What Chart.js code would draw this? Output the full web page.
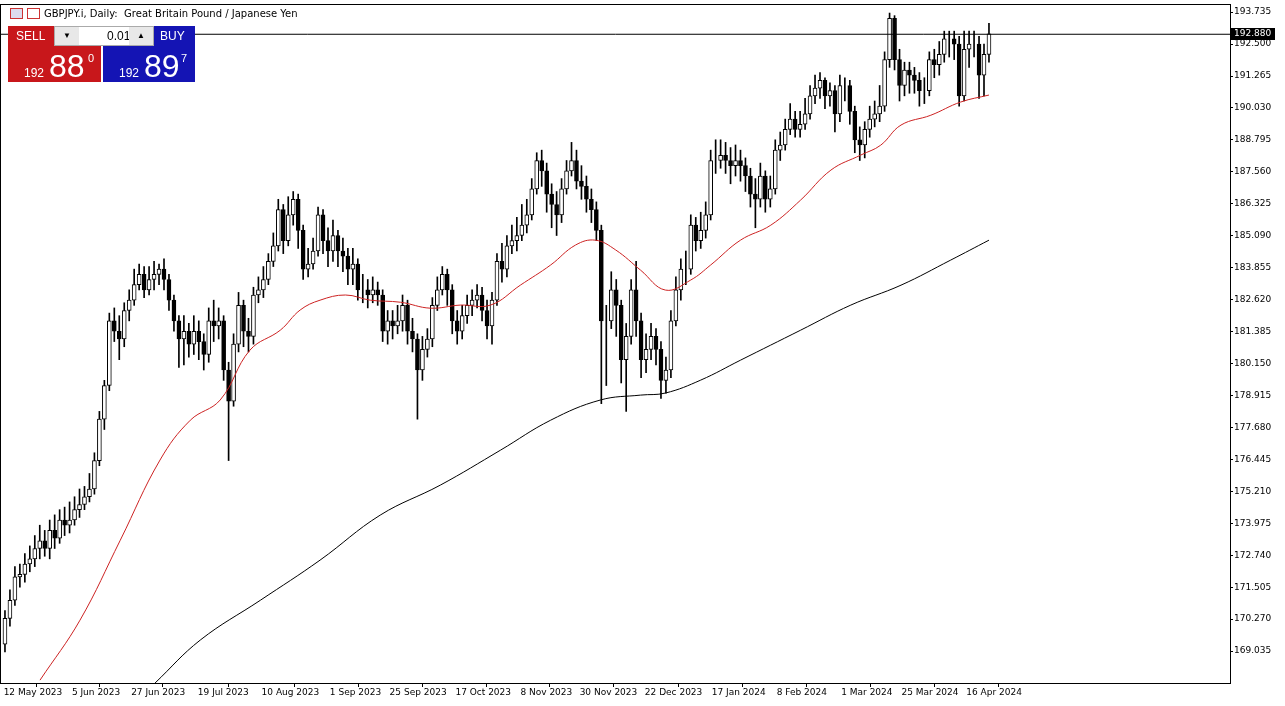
<!DOCTYPE html>
<html>
<head>
<meta charset="utf-8">
<script src="https://cdn.jsdelivr.net/npm/chart.js@4.4.1/dist/chart.umd.min.js"></script>
<style>
  body { margin: 0; background: #fff; font-family: "DejaVu Sans", sans-serif; }
  #wrap { position: relative; width: 1285px; height: 706px; }
  #title { position: absolute; left: 10px; top: 8px; font-size: 10px; color: #000; display: flex; align-items: center; gap: 4px; }
  .ico { width: 13px; height: 11px; border: 1px solid; display: inline-block; box-sizing: border-box; }
  #panel { position: absolute; left: 8px; top: 26px; width: 187px; height: 56px; font-family: "Liberation Sans", sans-serif; }
  .btn { position: absolute; color: #fff; }
  #sell { left: 0; top: 0; width: 93px; height: 56px; background: #c8171b; }
  #buy { left: 95px; top: 0; width: 92px; height: 56px; background: #1414b4; }
  .lbl { position: absolute; top: 3px; font-size: 12px; }
  .big { position: absolute; top: 22px; font-size: 32px; }
  .sm { position: absolute; top: 40px; font-size: 12px; }
  .sup { position: absolute; top: 26px; font-size: 11px; }
  #lot { position: absolute; left: 46px; top: 0; width: 100px; height: 20px; background: #fff; border: 1px solid #aaa; box-sizing: border-box; font-size: 12px; }
  .arr { position: absolute; top: 0; width: 24px; height: 18px; background: #e8e8e8; font-size: 8px; text-align: center; line-height: 18px; }
</style>
</head>
<body>
<div id="wrap">
  <canvas id="chart" width="1285" height="706"></canvas>
  <div id="title"><span class="ico" style="border-color:#c33;background:#dde"></span><span class="ico" style="border-color:#c33"></span><span>GBPJPY.i, Daily:&nbsp; Great Britain Pound / Japanese Yen</span></div>
  <div id="panel">
    <div class="btn" id="sell"><span class="lbl" style="left:8px">SELL</span><span class="sm" style="left:16px">192</span><span class="big" style="left:41px">88</span><span class="sup" style="left:80px">0</span></div>
    <div class="btn" id="buy"><span class="lbl" style="left:57px">BUY</span><span class="sm" style="left:16px">192</span><span class="big" style="left:41px">89</span><span class="sup" style="left:78px">7</span></div>
    <div id="lot"><span class="arr" style="left:0">&#9660;</span><span style="position:absolute;left:52px;top:2px">0.01</span><span class="arr" style="right:0">&#9650;</span></div>
  </div>
</div>
<script>
// Daily GBPJPY candles, 12 May 2023 .. 22 Apr 2024
const firstOpen = 169.3;
const closes = [170.3,171.0,171.9,172.0,172.4,172.6,173.0,173.3,173.0,173.7,173.4,174.1,173.9,174.1,174.5,174.7,175.0,175.3,176.4,178.0,
  179.3,181.8,181.4,181.1,182.2,182.6,183.2,183.6,183.0,183.4,183.6,183.8,183.4,182.6,181.8,181.1,181.4,180.9,181.4,181.0,
  180.5,181.8,181.6,181.8,179.9,178.7,180.9,182.4,181.4,181.2,182.8,183.0,183.4,184.1,184.7,186.1,184.9,185.9,186.5,185.3,
  183.8,184.0,184.5,185.9,184.9,184.5,185.1,184.5,184.3,183.8,184.0,183.0,183.0,182.8,183.0,182.8,181.4,181.8,181.6,181.8,
  182.4,181.4,181.1,179.9,180.7,181.1,182.4,183.0,183.6,183.0,181.8,181.4,182.0,182.4,182.6,182.8,182.2,181.6,182.6,184.1,
  183.8,184.7,184.9,185.1,185.5,185.9,186.9,188.0,187.6,186.7,186.3,185.9,186.9,187.6,188.0,187.2,187.0,186.5,186.1,185.3,
  181.8,181.8,183.0,182.4,180.3,181.2,183.0,181.8,180.3,180.7,181.2,180.7,179.5,179.9,181.8,183.0,183.8,183.8,185.5,184.9,
  185.3,185.9,188.0,188.0,188.2,188.0,187.8,188.0,187.8,187.4,186.7,186.5,187.4,186.5,186.9,188.4,188.6,189.2,189.6,189.2,
  189.4,189.8,190.5,190.8,191.1,190.5,190.7,189.8,190.9,190.9,189.9,188.8,188.6,189.2,189.6,189.8,190.1,191.9,193.5,191.9,
  190.9,191.5,191.3,191.1,190.7,190.7,191.9,191.7,192.1,192.7,192.7,192.5,190.5,192.3,192.5,192.5,191.3,192.1,192.9];
const highs = [170.6,171.4,172.3,172.4,172.8,173.1,173.5,173.9,173.7,174.1,174.3,174.5,174.6,174.8,175.0,175.3,175.4,175.9,176.7,178.3,
  179.5,182.1,182.3,182.0,182.5,183.0,183.8,184.0,183.9,183.9,184.1,184.0,184.2,183.6,182.8,182.0,182.0,181.7,182.0,181.8,
  181.3,182.3,182.6,182.3,182.0,180.2,181.3,182.9,182.6,181.9,183.1,183.5,183.9,184.4,185.2,186.5,186.3,186.6,186.8,186.7,
  185.5,184.6,185.0,186.2,186.1,185.4,185.7,185.3,185.0,184.6,184.6,184.2,183.6,183.4,183.5,183.3,183.0,182.2,182.2,182.4,
  182.8,182.6,181.9,181.3,181.2,181.5,182.7,183.5,183.9,183.8,183.2,182.2,182.4,182.8,183.0,183.2,183.1,182.6,182.9,184.4,
  184.8,185.1,185.5,185.8,186.3,186.5,187.3,188.3,188.4,187.9,187.1,186.8,187.3,188.0,188.7,188.4,187.8,187.4,186.9,186.4,
  185.5,182.4,183.7,183.4,182.6,181.7,183.4,184.1,182.1,181.3,181.7,181.5,181.0,180.4,182.2,183.5,184.2,184.5,185.9,185.8,
  186.0,186.4,188.4,188.8,188.8,188.7,188.5,188.6,188.4,188.1,187.7,187.3,187.9,187.6,187.4,188.8,189.1,189.6,190.2,189.9,
  189.9,190.4,190.9,191.3,191.4,191.2,191.0,190.9,191.3,191.2,191.1,190.1,189.3,189.5,190.1,190.3,190.9,192.2,193.7,193.6,
  192.3,191.8,191.8,191.6,191.4,191.2,192.2,192.3,192.6,193.0,193.0,193.0,192.8,193.0,193.0,193.0,192.8,192.5,193.3];
const lows = [169.0,170.0,170.8,171.5,171.7,172.1,172.3,172.6,172.7,172.6,173.0,173.2,173.5,173.6,173.9,174.2,174.5,174.8,175.1,176.2,
  177.6,179.1,181.0,180.3,180.8,181.8,182.4,183.0,182.7,182.8,183.0,183.2,183.0,182.2,181.4,180.0,180.1,180.4,180.5,180.3,
  179.9,180.2,181.0,181.1,179.5,176.4,178.5,180.6,180.8,180.6,180.9,182.5,182.7,183.2,183.9,184.5,184.4,184.7,185.5,184.6,
  183.4,183.5,183.8,184.3,184.4,183.9,184.1,183.9,183.7,183.2,183.2,182.6,182.5,182.3,182.5,182.4,181.0,180.9,181.1,181.3,
  181.4,180.9,180.6,178.0,179.5,180.4,180.8,182.2,182.8,182.4,181.3,180.9,181.1,181.7,182.0,182.3,181.8,181.1,180.9,182.4,
  183.3,183.5,184.4,184.5,184.9,185.2,185.7,186.7,187.0,186.0,185.4,185.1,185.6,186.7,187.4,186.9,186.5,186.0,185.6,184.9,
  178.6,179.3,181.5,181.2,179.4,178.3,180.9,181.2,179.6,179.8,180.3,180.1,178.8,179.0,179.6,181.6,182.6,183.2,183.6,184.5,
  184.6,185.0,185.7,187.5,187.7,187.5,187.1,187.4,187.2,186.8,186.2,185.4,186.2,186.0,186.2,186.7,188.0,188.4,189.0,188.9,
  188.9,189.2,189.6,190.2,190.4,190.0,190.1,189.1,189.5,190.3,189.4,188.3,188.0,188.1,188.9,189.3,189.5,189.9,191.6,191.5,
  190.3,190.5,190.6,190.6,190.1,190.2,190.5,191.2,191.3,191.8,192.0,191.9,190.1,190.3,191.6,192.0,190.4,190.5,191.8];

// moving averages, read at bar index positions
const ma50Idx = [7.05,15.1,23.2,31.2,37.3,43.3,49.3,55.4,59.4,63.4,68.5,73.5,79.6,85.6,91.6,97.7,103.7,109.8,114.8,118.8,122.9,127.9,132.9,138,142,148,154.1,160.1,166.2,172.2,176.2,180.3,186.3,192.3,198];
const ma50Val = [167.91,170.23,173.32,176.42,177.96,178.74,180.67,181.44,182.22,182.60,182.80,182.60,182.52,182.29,182.41,182.41,183.18,183.96,184.73,184.92,184.54,183.76,182.99,183.38,183.96,184.92,185.50,186.47,187.63,188.21,188.59,189.37,189.75,190.26,190.53];
const ma200Idx = [30.2,39.3,51.4,63.4,75.5,87.6,99.7,109.8,119.8,127.9,132.9,140,148,160.1,170.2,180.3,190.3,198];
const ma200Val = [167.80,169.46,171.00,172.55,174.29,175.45,176.80,177.96,178.74,178.93,179.01,179.51,180.28,181.44,182.41,183.18,184.15,184.92];

const dateLabels = ['12 May 2023','5 Jun 2023','27 Jun 2023','19 Jul 2023','10 Aug 2023','1 Sep 2023','25 Sep 2023','17 Oct 2023','8 Nov 2023','30 Nov 2023','22 Dec 2023','17 Jan 2024','8 Feb 2024','1 Mar 2024','25 Mar 2024','16 Apr 2024'];
const dateIdx = [0,12.7,25.2,38.3,51.8,64.9,77.5,90.6,103.3,115.8,128.9,142,154.7,167.8,180.5,193.4];
const priceTicks = [169.035,170.270,171.505,172.740,173.975,175.210,176.445,177.680,178.915,180.150,181.385,182.620,183.855,185.090,186.325,187.560,188.795,190.030,191.265,192.500,193.735];
const bid = 192.880;

const opens = closes.map((c, i) => i === 0 ? firstOpen : closes[i - 1]);
const bodies = closes.map((c, i) => ({ x: i, y: [opens[i], c] }));
const wicks = closes.map((c, i) => ({ x: i, y: [lows[i], highs[i]] }));
const bodyFill = closes.map((c, i) => c >= opens[i] ? '#ffffff' : '#000000');

const frameAndPrice = {
  id: 'frameAndPrice',
  afterDraw(chart) {
    const { ctx, chartArea: a, scales: { y } } = chart;
    ctx.save();
    ctx.strokeStyle = '#000';
    ctx.lineWidth = 1;
    ctx.strokeRect(a.left + 0.5, a.top + 0.5, a.right - a.left, a.bottom - a.top);
    const py = Math.round(y.getPixelForValue(bid));
    ctx.fillStyle = '#000';
    ctx.fillRect(a.right + 1, py - 6, 44, 12);
    ctx.fillStyle = '#fff';
    ctx.font = '9px "DejaVu Sans"';
    ctx.textBaseline = 'middle';
    ctx.fillText(bid.toFixed(3), a.right + 4, py);
    ctx.restore();
  }
};

new Chart(document.getElementById('chart'), {
  type: 'bar',
  data: {
    datasets: [
      {
        type: 'line', label: 'bid', data: [{ x: -1, y: bid }, { x: 247, y: bid }],
        borderColor: '#000', borderWidth: 1, pointRadius: 0, order: 0
      },
      {
        type: 'line', label: 'MA50', data: ma50Idx.map((x, i) => ({ x, y: ma50Val[i] })),
        borderColor: '#cc2222', borderWidth: 1, pointRadius: 0, tension: 0.4, order: 1
      },
      {
        type: 'line', label: 'MA200', data: ma200Idx.map((x, i) => ({ x, y: ma200Val[i] })),
        borderColor: '#000', borderWidth: 1, pointRadius: 0, tension: 0.4, order: 1
      },
      {
        label: 'body', data: bodies, backgroundColor: bodyFill, borderColor: '#000',
        borderWidth: 1, borderSkipped: false, barThickness: 4, grouped: false, order: 2
      },
      {
        label: 'wick', data: wicks, backgroundColor: '#000', borderWidth: 0,
        barThickness: 1, grouped: false, order: 3
      }
    ]
  },
  options: {
    responsive: false,
    animation: false,
    layout: { padding: { top: 4, left: 0 } },
    plugins: { legend: { display: false }, tooltip: { enabled: false } },
    scales: {
      x: {
        type: 'linear', min: -1, max: 246.5, offset: false,
        afterBuildTicks: s => { s.ticks = dateIdx.map(v => ({ value: v })); },
        afterFit: s => { s.height = 23; s.paddingLeft = 0; s.paddingRight = 0; },
        grid: { display: true, drawOnChartArea: false, tickLength: 4, color: '#000' },
        border: { display: false },
        ticks: {
          autoSkip: false, maxRotation: 0, padding: 0, labelOffset: 28, color: '#000',
          font: { family: 'DejaVu Sans', size: 9 },
          callback: (v) => { const k = dateIdx.indexOf(v); return k >= 0 ? dateLabels[k] : ''; }
        }
      },
      y: {
        position: 'right', min: 167.80, max: 194.05,
        afterBuildTicks: s => { s.ticks = priceTicks.map(v => ({ value: v })); },
        afterFit: s => { s.width = 55; s.paddingTop = 0; s.paddingBottom = 0; },
        grid: { display: true, drawOnChartArea: false, tickLength: 3, color: '#000' },
        border: { display: false },
        ticks: {
          padding: 1, color: '#000', font: { family: 'DejaVu Sans', size: 9 },
          callback: v => Number(v).toFixed(3)
        }
      }
    }
  },
  plugins: [frameAndPrice]
});
</script>
</body>
</html>
